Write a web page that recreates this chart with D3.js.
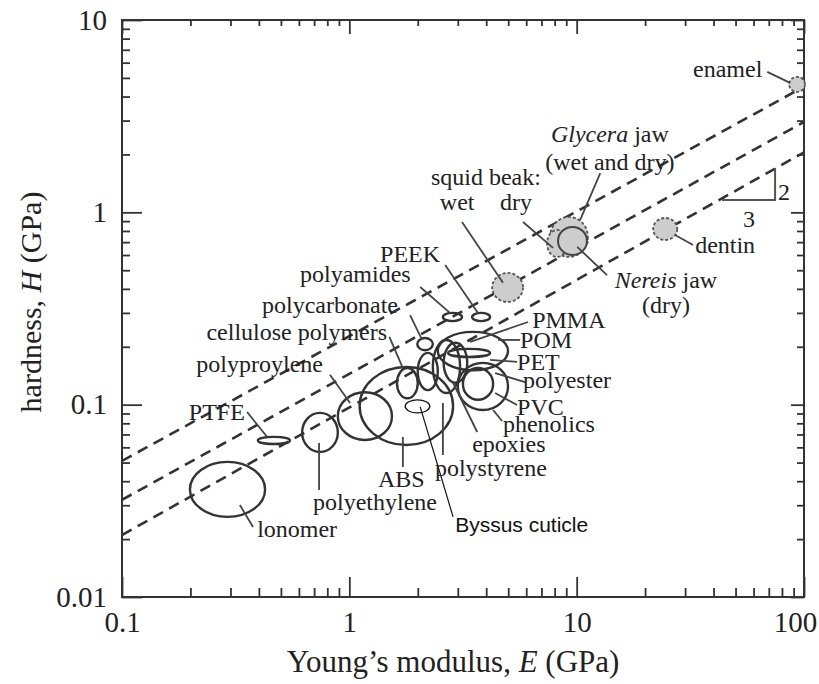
<!DOCTYPE html>
<html><head><meta charset="utf-8">
<script src="https://cdn.jsdelivr.net/npm/d3@7"></script>
<style>body{margin:0;background:#fff}</style>
</head><body>
<svg id="chart" width="819" height="684"></svg>
<script>
// ---------- data ----------
const xTicks = [0.1, 1, 10, 100];
const xTickLabels = ["0.1", "1", "10", "100"];
const yTicks = [0.01, 0.1, 1, 10];
const yTickLabels = ["0.01", "0.1", "1", "10"];

// polymer property ranges: Young's modulus E (GPa) and hardness H (GPa)
const polyNames = ["lonomer","PTFE","polyethylene","polyproylene","ABS","cellulose polymers","polycarbonate","polyamides","PEEK","POM","epoxies","polystyrene","PVC","polyester","PMMA","PET","Byssus cuticle"];
const polyEmin = [0.199,0.396,0.62,0.89,1.11,1.62,1.99,2.58,3.47,2.45,2.0,2.33,3.0,3.16,2.6,2.72,1.76];
const polyEmax = [0.426,0.548,0.89,1.54,2.86,2.0,2.33,3.13,4.16,4.99,2.45,3.07,4.99,4.29,3.3,4.16,2.26];
const polyHmin = [0.0261,0.0625,0.0568,0.0655,0.0617,0.108,0.192,0.272,0.272,0.151,0.119,0.115,0.0938,0.106,0.13,0.177,0.0906];
const polyHmax = [0.0504,0.068,0.0906,0.116,0.157,0.155,0.222,0.30,0.30,0.239,0.186,0.217,0.165,0.155,0.21,0.195,0.106];

// biological materials (grey)
const bioNames = ["Glycera jaw","squid beak wet","squid beak dry","Nereis jaw","dentin","enamel"];
const bioEmin = [7.64,4.25,7.41,8.28,21.7,86];
const bioEmax = [11.2,5.81,9.08,11.1,27.7,101];
const bioHmin = [0.586,0.342,0.586,0.60,0.718,4.23];
const bioHmax = [0.946,0.484,0.81,0.84,0.935,5.06];

// H ~ E^(2/3) guide lines, H read at E = 0.1 and E = 100
const guideE = [0.1, 100];
const guideH = [[0.051, 4.5], [0.032, 2.95], [0.021, 2.05]];

// slope triangle (2 : 3)
const triE = [43.6, 74.6, 74.6];
const triH = [1.16, 1.16, 1.70];
const triLabels = ["2", "3"];
const triLabelE = [76.9, 57.3];
const triLabelH = [1.16, 0.84];

// annotations: text, anchor position (E,H), leader line (E1,H1)-(E2,H2)
const annText = ["enamel","*Glycera* jaw","(wet and dry)","squid beak:","wet","dry","dentin","*Nereis* jaw","(dry)","PEEK","polyamides","polycarbonate","cellulose polymers","polyproylene","PTFE","lonomer","polyethylene","ABS","polystyrene","epoxies","phenolics","PVC","polyester","PET","POM","PMMA","Byssus cuticle"];
const annE = [32.5,14.0,14.0,3.99,2.98,5.41,33.2,24.7,24.7,1.365,0.607,0.413,1.466,0.766,0.347,0.393,0.692,1.337,2.38,3.47,4.74,5.47,5.81,5.47,5.64,6.37,2.92];
const annH = [5.06,2.32,1.66,1.39,1.03,1.03,0.615,0.405,0.30,0.552,0.435,0.30,0.217,0.148,0.0832,0.0205,0.0283,0.0373,0.0426,0.0568,0.0721,0.0883,0.122,0.151,0.197,0.251,0.0218];
const annAnchor = ["start","middle","middle","middle","middle","middle","start","middle","middle","start","start","start","end","end","end","start","start","start","start","start","start","start","start","start","start","start","start"];

const leadE1 = [68.9,12.7,null,null,3.13,5.81,27.1,10.05,null,2.64,2.05,1.85,1.50,0.822,0.355,0.330,0.736,1.72,2.58,2.86,4.29,4.38,4.38,4.16,4.51,3.40,2.05];
const leadH1 = [5.37,1.60,null,null,0.891,0.891,0.762,0.661,null,0.532,0.409,0.292,0.225,0.143,0.0916,0.0301,0.0632,0.0679,0.102,0.130,0.0938,0.115,0.146,0.171,0.217,0.212,0.0973];
const leadE2 = [86.9,10.35,null,null,4.74,7.87,32.5,13.6,null,3.68,2.77,2.09,1.72,1.007,0.435,0.377,0.736,1.72,2.58,3.65,4.70,5.47,5.93,5.47,5.64,6.11,2.86];
const leadH2 = [4.71,0.912,null,null,0.430,0.653,0.676,0.472,null,0.30,0.30,0.217,0.155,0.102,0.0679,0.0231,0.036,0.0474,0.0547,0.0721,0.0822,0.0995,0.131,0.167,0.217,0.269,0.0261];

// ---------- drawing ----------
const L = 122, R = 804, T = 20, B = 597;
const svg = d3.select("#chart");
const x = d3.scaleLog().domain([0.1, 100]).range([L, R]);
const y = d3.scaleLog().domain([0.01, 10]).range([B, T]);
const ink = "#333";
const serif = "'Liberation Serif','Times New Roman',serif";

svg.append("defs").append("clipPath").attr("id", "plotclip")
  .append("rect").attr("x", L).attr("y", T).attr("width", R - L).attr("height", B - T);

// minor ticks
const minor = [];
[0.1, 1, 10].forEach(d => { for (let k = 2; k <= 9; k++) minor.push(d * k); });
const minorY = [];
[0.01, 0.1, 1].forEach(d => { for (let k = 2; k <= 9; k++) minorY.push(d * k); });

function styleAxis(g) {
  g.select(".domain").remove();
  g.selectAll("line").attr("stroke", ink).attr("stroke-width", 1.8);
  g.selectAll("text").attr("font-family", serif).attr("font-size", 29).attr("fill", "#222");
}
// bottom
const bx = svg.append("g").attr("transform", `translate(0,${B})`)
  .call(d3.axisBottom(x).tickValues(xTicks).tickFormat((d, i) => xTickLabels[i]).tickSize(-20).tickPadding(14)).call(styleAxis);
bx.selectAll(".tick text").filter(d => d === 100).attr("dx", -9);
svg.append("g").attr("transform", `translate(0,${B})`)
  .call(d3.axisBottom(x).tickValues(minor).tickFormat("").tickSize(-9)).call(styleAxis);
// top
svg.append("g").attr("transform", `translate(0,${T})`)
  .call(d3.axisTop(x).tickValues(xTicks).tickFormat("").tickSize(-14)).call(styleAxis);
svg.append("g").attr("transform", `translate(0,${T})`)
  .call(d3.axisTop(x).tickValues(minor).tickFormat("").tickSize(-6)).call(styleAxis);
// left
svg.append("g").attr("transform", `translate(${L},0)`)
  .call(d3.axisLeft(y).tickValues(yTicks).tickFormat((d, i) => yTickLabels[i]).tickSize(-20).tickPadding(15)).call(styleAxis);
svg.append("g").attr("transform", `translate(${L},0)`)
  .call(d3.axisLeft(y).tickValues(minorY).tickFormat("").tickSize(-8)).call(styleAxis);
// right
svg.append("g").attr("transform", `translate(${R},0)`)
  .call(d3.axisRight(y).tickValues(yTicks).tickFormat("").tickSize(-13)).call(styleAxis);
svg.append("g").attr("transform", `translate(${R},0)`)
  .call(d3.axisRight(y).tickValues(minorY).tickFormat("").tickSize(-7)).call(styleAxis);

// frame
svg.append("rect").attr("x", L).attr("y", T).attr("width", R - L).attr("height", B - T)
  .attr("fill", "none").attr("stroke", ink).attr("stroke-width", 2);

// axis titles
const xt = svg.append("text").attr("x", 453).attr("y", 672).attr("text-anchor", "middle")
  .attr("font-family", serif).attr("font-size", 31).attr("fill", "#222");
xt.append("tspan").text("Young\u2019s modulus, ");
xt.append("tspan").attr("font-style", "italic").text("E");
xt.append("tspan").text(" (GPa)");
const yt = svg.append("text").attr("transform", "translate(41,302) rotate(-90)").attr("text-anchor", "middle")
  .attr("font-family", serif).attr("font-size", 30).attr("fill", "#222");
yt.append("tspan").text("hardness, ");
yt.append("tspan").attr("font-style", "italic").text("H");
yt.append("tspan").text(" (GPa)");

const plot = svg.append("g").attr("clip-path", "url(#plotclip)");

// guide lines
const line = d3.line().x(d => x(d[0])).y(d => y(d[1]));
guideH.forEach(h => {
  plot.append("path").datum(guideE.map((e, i) => [e, h[i]]))
    .attr("d", line).attr("fill", "none").attr("stroke", ink)
    .attr("stroke-width", 2.6).attr("stroke-dasharray", "11,7");
});

// ellipse helper
function ell(e0, e1, h0, h1) {
  return {cx: (x(e0) + x(e1)) / 2, cy: (y(h0) + y(h1)) / 2,
          rx: Math.abs(x(e1) - x(e0)) / 2, ry: Math.abs(y(h1) - y(h0)) / 2};
}

// bio materials
bioNames.forEach((n, i) => {
  const g = ell(bioEmin[i], bioEmax[i], bioHmin[i], bioHmax[i]);
  const solid = n === "Nereis jaw";
  svg.append("ellipse").attr("cx", g.cx).attr("cy", g.cy).attr("rx", g.rx).attr("ry", g.ry)
    .attr("fill", "#cdcdcd").attr("stroke", solid ? "#444" : "#555")
    .attr("stroke-width", solid ? 2 : 1.8).attr("stroke-dasharray", solid ? null : "3,2");
});

// polymers
polyNames.forEach((n, i) => {
  const g = ell(polyEmin[i], polyEmax[i], polyHmin[i], polyHmax[i]);
  const thin = n === "Byssus cuticle";
  svg.append("ellipse").attr("cx", g.cx).attr("cy", g.cy).attr("rx", g.rx).attr("ry", g.ry)
    .attr("fill", "none").attr("stroke", thin ? "#111" : ink).attr("stroke-width", thin ? 1.3 : 2.4);
});

// slope triangle
svg.append("path").datum(triE.map((e, i) => [e, triH[i]])).attr("d", line)
  .attr("fill", "none").attr("stroke", "#555").attr("stroke-width", 2);
triLabels.forEach((t, i) => {
  svg.append("text").attr("x", x(triLabelE[i])).attr("y", y(triLabelH[i]))
    .attr("text-anchor", i === 0 ? "start" : "middle")
    .attr("font-family", serif).attr("font-size", 24).attr("fill", "#222").text(t);
});

// leader lines
annText.forEach((t, i) => {
  if (leadE1[i] == null) return;
  const thin = t === "Byssus cuticle";
  svg.append("line").attr("x1", x(leadE1[i])).attr("y1", y(leadH1[i]))
    .attr("x2", x(leadE2[i])).attr("y2", y(leadH2[i]))
    .attr("stroke", thin ? "#111" : "#444").attr("stroke-width", thin ? 1.2 : 1.8);
});

// labels
annText.forEach((t, i) => {
  const sans = t === "Byssus cuticle";
  const tx = svg.append("text").attr("x", x(annE[i])).attr("y", y(annH[i]))
    .attr("text-anchor", annAnchor[i])
    .attr("font-family", sans ? "'Liberation Sans',Arial,sans-serif" : serif)
    .attr("font-size", sans ? 21 : 24).attr("fill", sans ? "#111" : "#222");
  const parts = t.split("*");
  parts.forEach((p, k) => { if (p) tx.append("tspan").attr("font-style", k % 2 ? "italic" : null).text(p); });
});
</script>
</body></html>
